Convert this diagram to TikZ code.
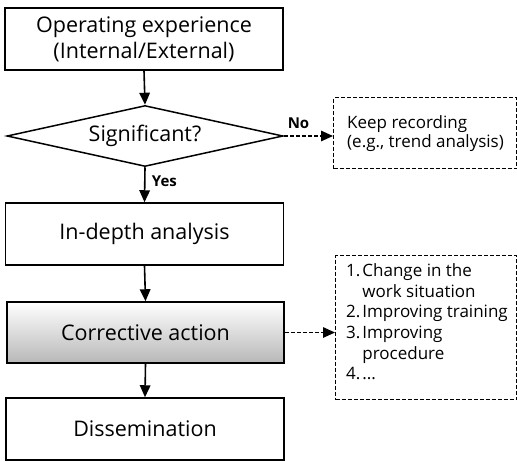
\documentclass[tikz,border=0pt]{standalone}
\usepackage{fontspec}
\setmainfont{Open Sans}
\usetikzlibrary{shapes.geometric,arrows.meta}
\begin{document}
\begin{tikzpicture}[x=1pt,y=1pt,
  box/.style={draw, line width=1.5pt, rectangle, minimum width=278pt, minimum height=62pt,
    align=center, inner sep=0pt, font=\fontsize{21.5}{26}\selectfont},
  note/.style={draw, dash pattern=on 4pt off 2pt, line width=1.1pt, rectangle, inner sep=0pt, anchor=north west},
  flow/.style={line width=1.6pt, -{Triangle[length=12pt,width=10.5pt]}},
  side/.style={dash pattern=on 4pt off 2pt, line width=1.4pt, -{Triangle[length=12pt,width=10.5pt]}},
  lbl/.style={font=\fontsize{15}{17}\selectfont\bfseries}]
\useasboundingbox (0,0) rectangle (517,-461);

% main column
\node[box] (op) at (144,-39) {Operating experience\\(Internal/External)};
\node[draw, line width=1.5pt, diamond, aspect=4.5, minimum width=276pt, minimum height=61pt, inner sep=0pt,
      font=\fontsize{21.5}{26}\selectfont] (sig) at (145,-136) {Significant?};
\node[box] (ida) at (144.5,-234) {In-depth analysis};
\node[box, top color=white, bottom color=black!28, minimum width=277pt, minimum height=61pt] (ca) at (145.5,-332.5) {Corrective action};
\node[box] (dis) at (145,-429) {Dissemination};

% side notes
\node[note, minimum width=183pt, minimum height=71pt] (keep) at (333,-97) {};
\node[anchor=west, align=left, inner sep=0pt, font=\fontsize{17}{19}\selectfont] (keeptxt) at (347,-134) {Keep recording\\(e.g., trend analysis)};
\node[note, minimum width=181pt, minimum height=144pt] (list) at (335,-255) {};
\node[anchor=north west, font=\fontsize{17}{20.6}\selectfont, inner sep=0pt] (listtxt) at (346,-262)
  {\begin{tabular}{@{}l@{\hspace{2pt}}l@{}}
   1. & Change in the\\
      & work situation\\
   2. & Improving training\\
   3. & Improving\\
      & procedure\\
   4. & ...
   \end{tabular}};

% connectors
\draw[flow] (op.south) -- (sig.north);
\draw[flow] (sig.south) -- node[lbl, right, pos=0.4, xshift=3pt] {Yes} (ida.north);
\draw[side] (sig.east) -- node[lbl, above, pos=0.3, yshift=3pt] {No} (sig.east -| keep.west);
\draw[flow] (ida.south) -- (ca.north);
\draw[flow] (ca.south) -- (dis.north);
\draw[side] (ca.east) -- (ca.east -| list.west);
\end{tikzpicture}
\end{document}
